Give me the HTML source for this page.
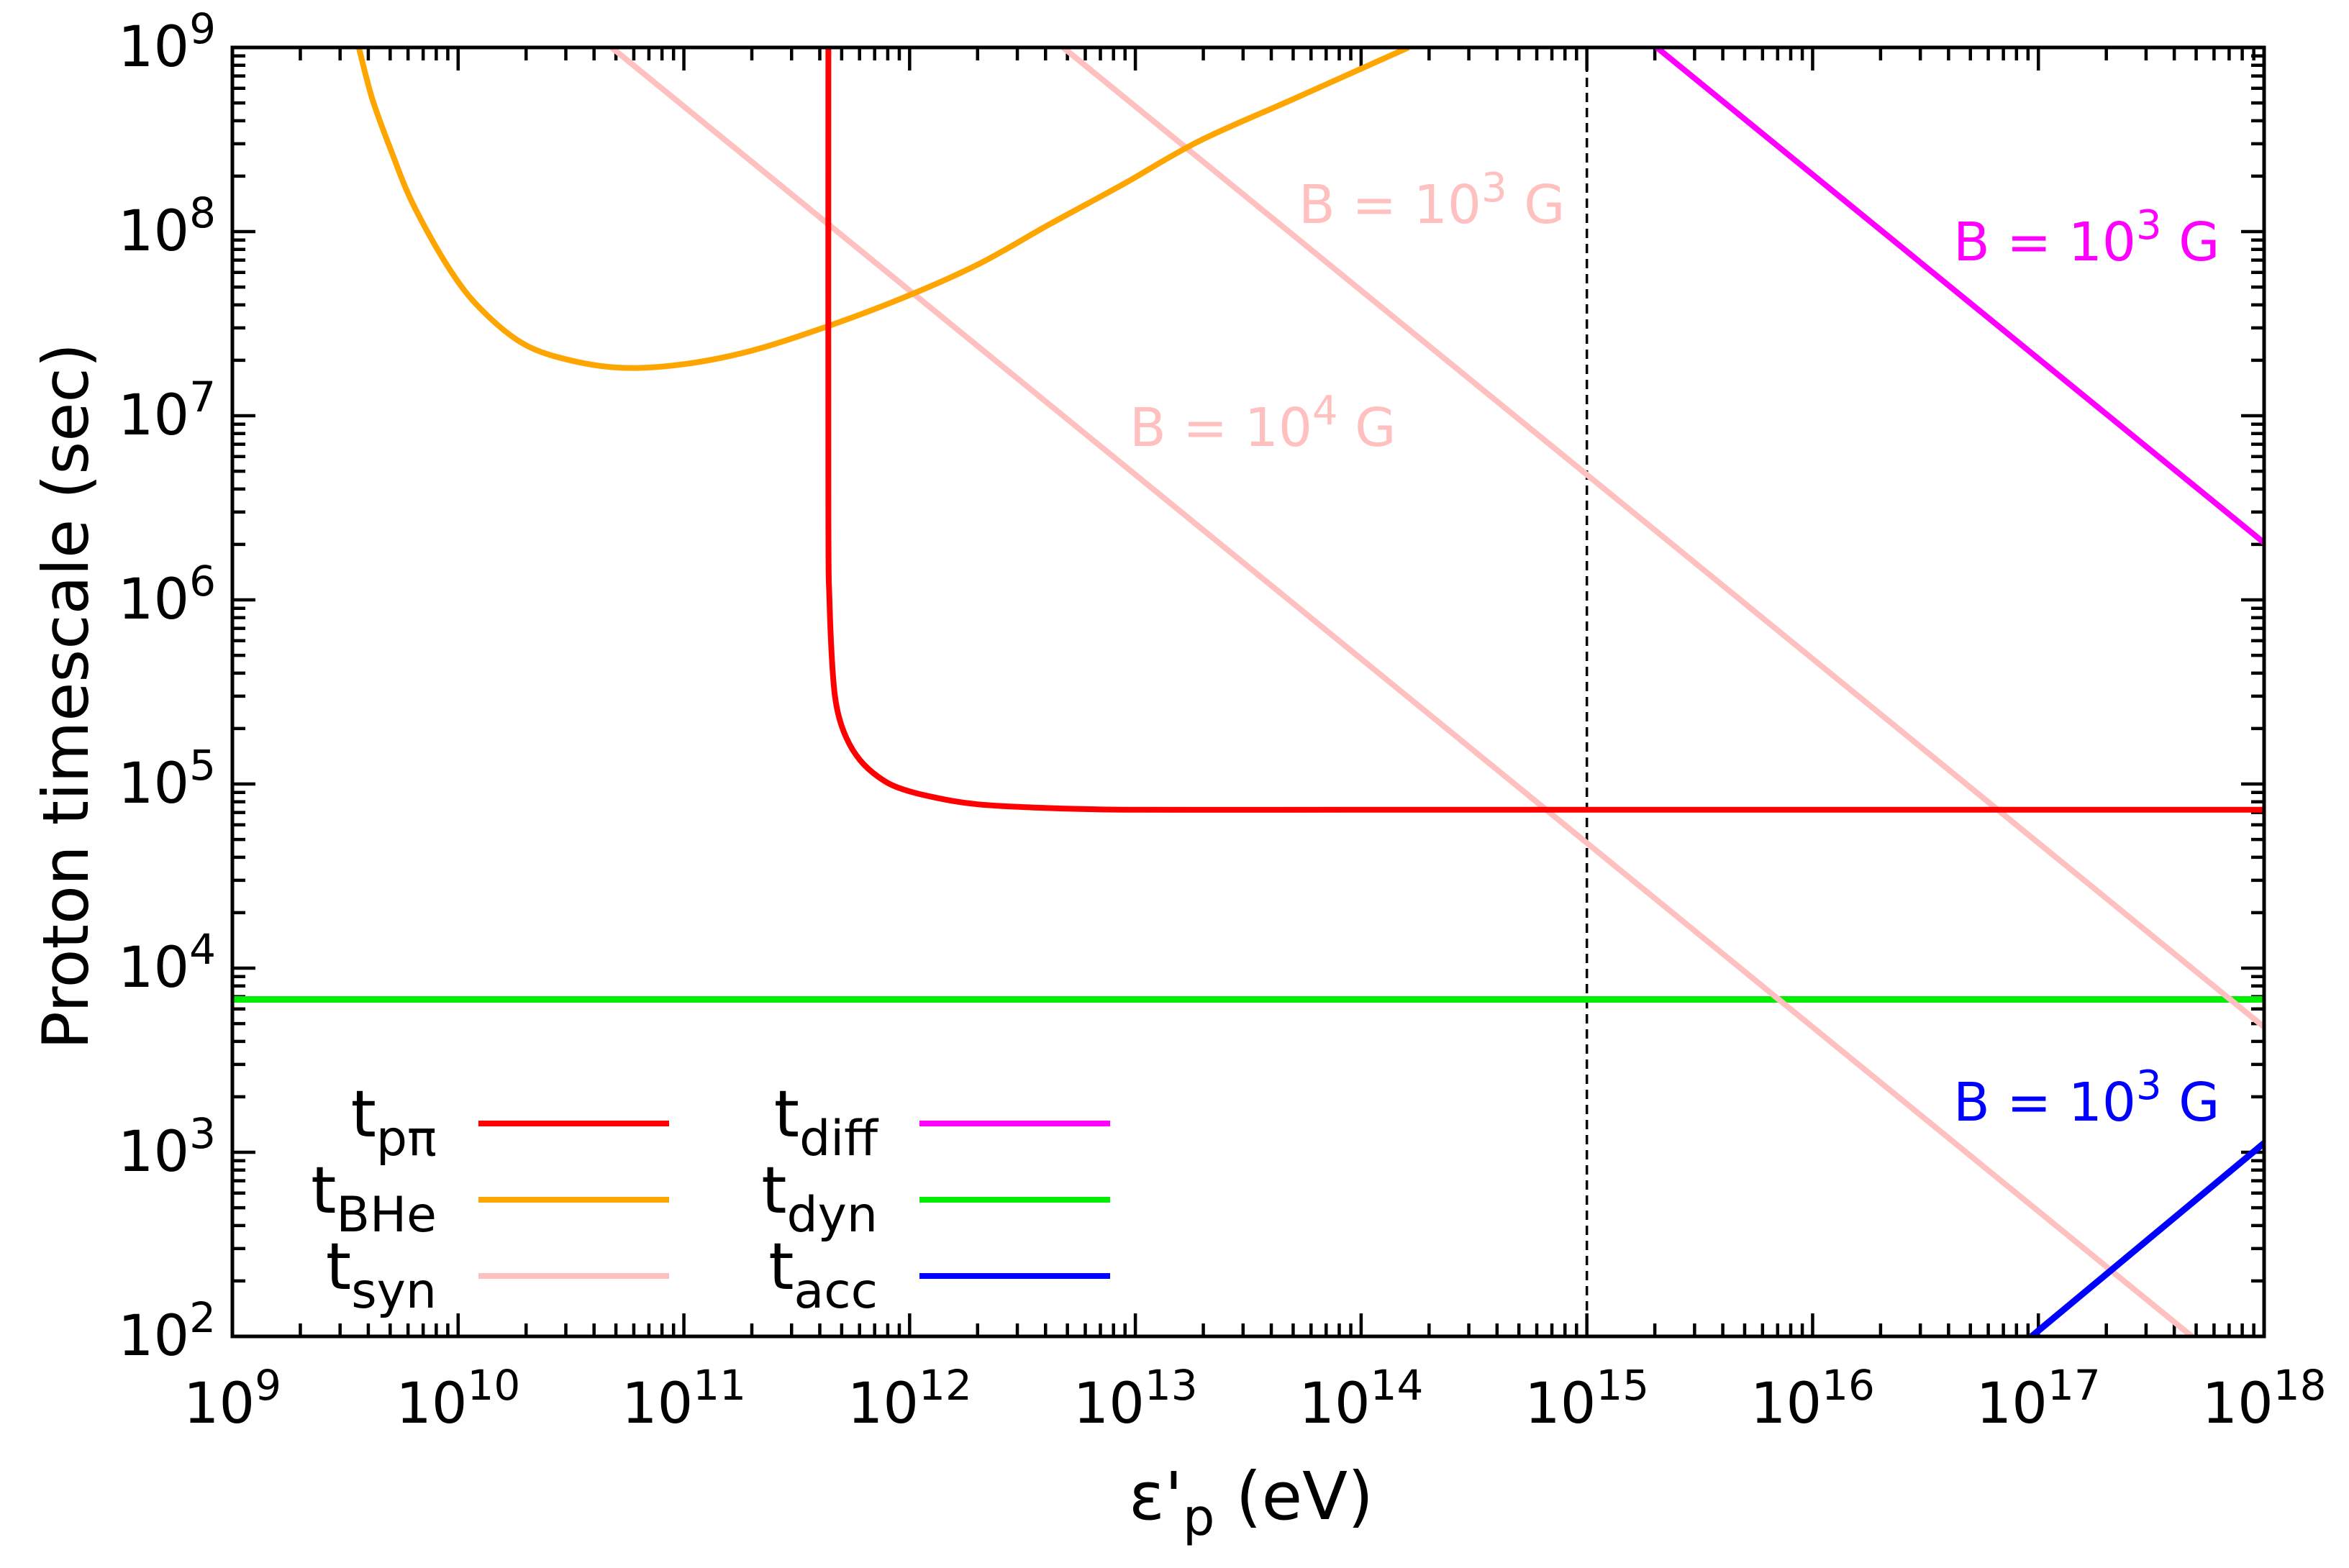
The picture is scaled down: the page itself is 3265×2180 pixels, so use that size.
<!DOCTYPE html>
<html><head><meta charset="utf-8"><style>
html,body{margin:0;padding:0;background:#fff;}
svg{display:block;font-family:"DejaVu Sans","Liberation Sans",sans-serif;}
</style></head><body>
<svg id="chart" width="3265" height="2180" viewBox="0 0 3265 2180" xmlns="http://www.w3.org/2000/svg">
<g id="plot"></g>
</svg>
<script>
// data (log10 units: x = log10 eV, y = log10 sec)
const xTicks = [9,10,11,12,13,14,15,16,17,18];
const yTicks = [2,3,4,5,6,7,8,9];
const tppX = [11.64,11.64,11.645,11.66,11.68,11.72,11.78,11.86,11.95,12.1,12.3,12.6,13,14,15,16,17,18];
const tppY = [9,6.5,6.0,5.6,5.4,5.25,5.13,5.04,4.98,4.93,4.89,4.87,4.86,4.86,4.86,4.86,4.86,4.86];
const bheX = [9.56,9.62,9.70,9.80,9.96,10.1,10.29,10.5,10.73,11.0,11.29,11.6,11.95,12.3,12.62,12.95,13.28,13.7,14.21];
const bheY = [9,8.72,8.45,8.15,7.8,7.58,7.39,7.3,7.26,7.28,7.35,7.47,7.63,7.82,8.04,8.26,8.49,8.72,9];
const syn4X = [10.68,17.68];
const syn4Y = [9,2];
const syn3X = [12.68,18];
const syn3Y = [9,3.68];
const diffX = [15.31,18];
const diffY = [9,6.31];
const dynX = [9,18];
const dynY = [3.83,3.83];
const accX = [16.97,18];
const accY = [2,3.05];
const dashX = 15;

const L=323,R=3147,T=66,B=1858;
const sx = v => L+(v-9)*(R-L)/9;
const sy = v => B-(v-2)*(B-T)/7;
const NS="http://www.w3.org/2000/svg";
const g=document.getElementById('plot');
function el(tag,attrs,parent){const e=document.createElementNS(NS,tag);for(const k in attrs)e.setAttribute(k,attrs[k]);(parent||g).appendChild(e);return e;}

const defs=el('defs',{});
const cp=el('clipPath',{id:'clip'},defs);
el('rect',{x:L,y:T,width:R-L,height:B-T},cp);

const tk=el('g',{stroke:'#000','stroke-width':4.5});


for(let d=9;d<18;d++){for(let m=1;m<=9;m++){const x=sx(d+Math.log10(m));const len=m===1?32:18;
 el('line',{x1:x,y1:B,x2:x,y2:B-len},tk);el('line',{x1:x,y1:T,x2:x,y2:T+len},tk);}}
for(let d=2;d<9;d++){for(let m=1;m<=9;m++){const y=sy(d+Math.log10(m));const len=m===1?32:18;
 el('line',{x1:L,y1:y,x2:L+len,y2:y},tk);el('line',{x1:R,y1:y,x2:R-len,y2:y},tk);}}

function path(xs,ys,color,w,name,smooth){
 const P=xs.map((x,i)=>[sx(x),sy(ys[i])]);
 let d='M'+P[0][0].toFixed(1)+','+P[0][1].toFixed(1);
 for(let i=1;i<P.length;i++){
  if(smooth){const p0=P[Math.max(i-2,0)],p1=P[i-1],p2=P[i],p3=P[Math.min(i+1,P.length-1)];
   const c1=[p1[0]+(p2[0]-p0[0])/6,p1[1]+(p2[1]-p0[1])/6],c2=[p2[0]-(p3[0]-p1[0])/6,p2[1]-(p3[1]-p1[1])/6];
   d+='C'+c1.map(v=>v.toFixed(1)).join(',')+' '+c2.map(v=>v.toFixed(1)).join(',')+' '+p2[0].toFixed(1)+','+p2[1].toFixed(1);}
  else d+='L'+P[i][0].toFixed(1)+','+P[i][1].toFixed(1);}
 const p=el('path',{d:d,fill:'none',stroke:color,'stroke-width':w,'clip-path':'url(#clip)','stroke-linejoin':'round'});
 
 
 return p;}
const dl=el('line',{x1:sx(dashX),y1:T,x2:sx(dashX),y2:B,stroke:'#000','stroke-width':3.5,'stroke-dasharray':'13,8'});


path(dynX,dynY,'#00ee00',9,'t-dyn-line');
path(syn4X,syn4Y,'#ffc0c0',8,'t-syn-b1e4-line');
path(syn3X,syn3Y,'#ffc0c0',8,'t-syn-b1e3-line');
path(bheX,bheY,'#ffa500',8,'t-bhe-line',true);
path(tppX,tppY,'#ff0000',8,'t-ppi-line',true);
path(diffX,diffY,'#ff00ff',8,'t-diff-line');
path(accX,accY,'#0000ff',9,'t-acc-line');

const fr=el('rect',{x:L,y:T,width:R-L,height:B-T,fill:'none',stroke:'#000','stroke-width':5});



xTicks.forEach(v=>{const t=el('text',{x:sx(v),y:1978,'font-size':78,'text-anchor':'middle'});
 
 
 t.innerHTML='10<tspan dy="-32" font-size="58">'+v+'</tspan>';});
yTicks.forEach(v=>{const t=el('text',{x:300,y:sy(v)+26,'font-size':78,'text-anchor':'end'});
 
 
 t.innerHTML='10<tspan dy="-32" font-size="58">'+v+'</tspan>';});

const xt=el('text',{x:1739,y:2112,'font-size':92,'text-anchor':'middle'});


xt.innerHTML="ε'<tspan dy='22' font-size='70'>p</tspan><tspan dy='-22'> (eV)</tspan>";
const yt=el('text',{x:0,y:0,'font-size':88,'text-anchor':'middle',transform:'translate(122,968) rotate(-90)'});


yt.textContent='Proton timescale (sec)';

function ann(x,y,color,exp,name){const t=el('text',{x:x,y:y,'font-size':74,fill:color});
 
 
 t.innerHTML='B = 10<tspan dy="-30" font-size="56">'+exp+'</tspan><tspan dy="30"> G</tspan>';}
ann(1805,310,'#ffc0c0',3,'syn-b1e3-annotation');
ann(1570,620,'#ffc0c0',4,'syn-b1e4-annotation');
ann(2715,362,'#ff00ff',3,'diff-annotation');
ann(2715,1558,'#0000ff',3,'acc-annotation');

const leg=[['p\u03c0','#ff0000',0,0],['BHe','#ffa500',0,1],['syn','#ffc0c0',0,2],['diff','#ff00ff',1,0],['dyn','#00ee00',1,1],['acc','#0000ff',1,2]];
leg.forEach(([s,c,col,row])=>{
 const y=1562+row*106;const lx0=col?1278:665;
 const ln=el('line',{x1:lx0,y1:y,x2:lx0+265,y2:y,stroke:c,'stroke-width':8});
 
 
 const t=el('text',{x:lx0-58,y:y+18,'font-size':90,'text-anchor':'end'});
 
 
 t.innerHTML='t<tspan dy="26" font-size="68">'+s+'</tspan>';
});
</script>
</body></html>
